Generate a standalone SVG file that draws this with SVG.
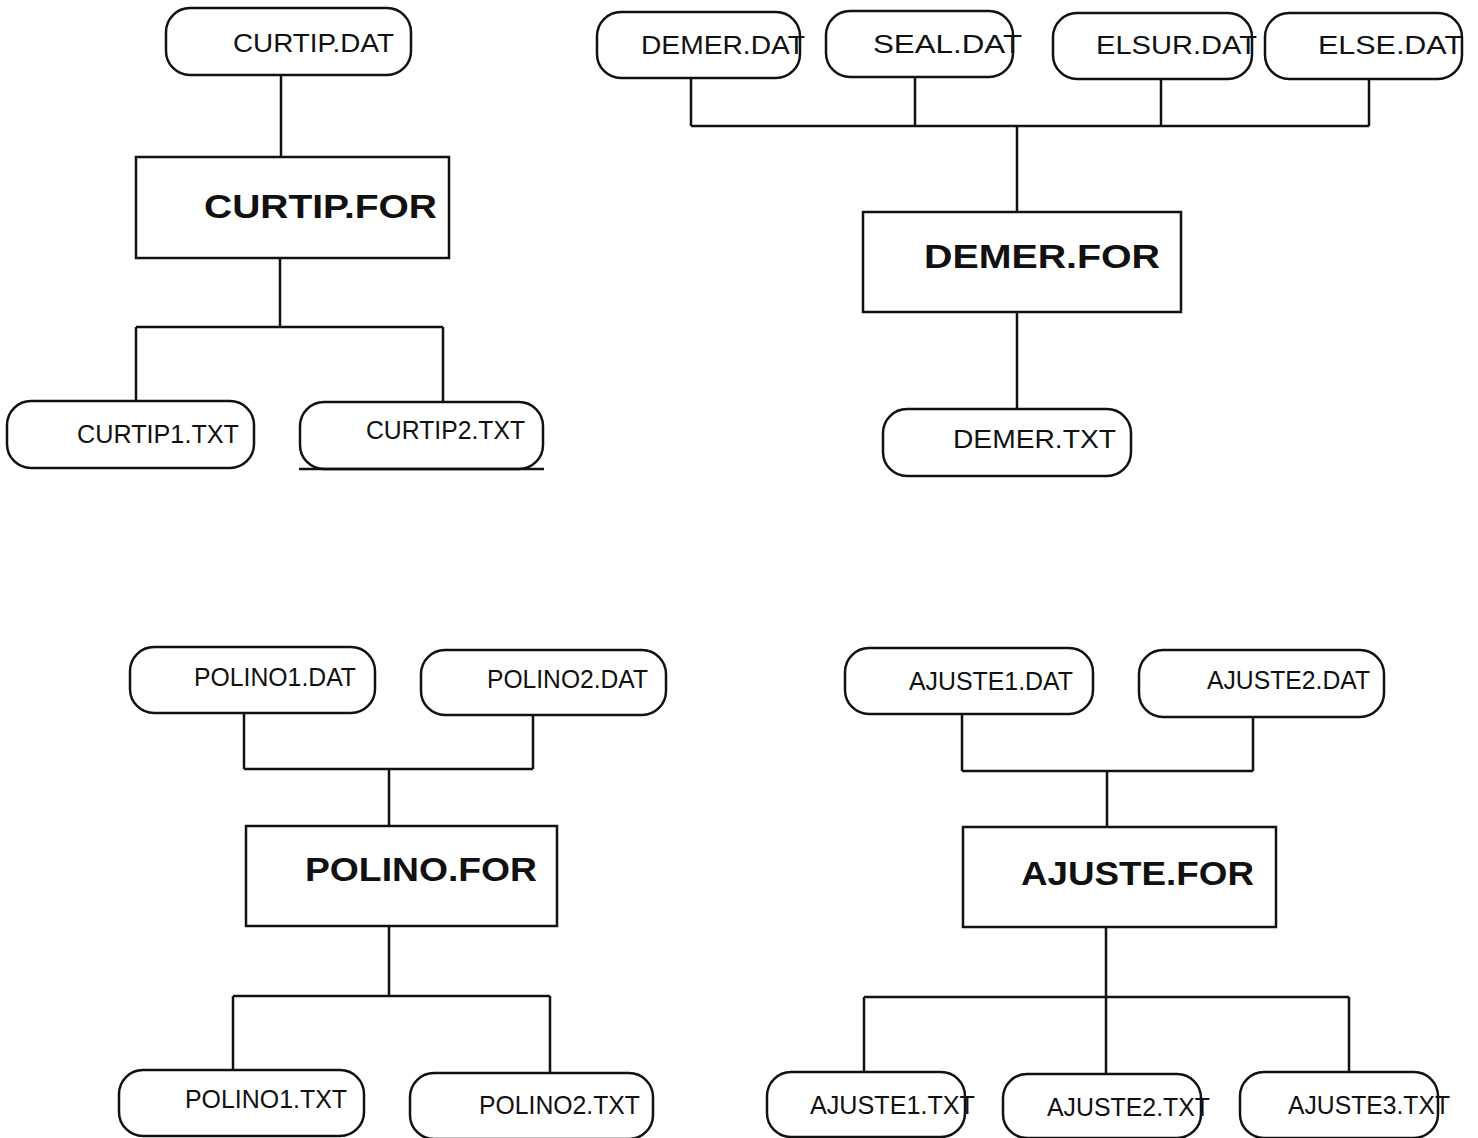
<svg xmlns="http://www.w3.org/2000/svg" width="1478" height="1138" viewBox="0 0 1478 1138">
<style>
.bg{fill:#fff}
.file{fill:#fff;stroke:#111;stroke-width:2.5}
.prog{fill:#fff;stroke:#111;stroke-width:2.5}
.conn{fill:none;stroke:#111;stroke-width:2.5}
.lbl{font-family:"Liberation Sans",Arial,sans-serif;font-size:26px;fill:#111}
.big{font-family:"Liberation Sans",Arial,sans-serif;font-size:33px;font-weight:bold;fill:#111}
</style>
<rect class="bg" x="0" y="0" width="1478" height="1138"/>
<g id="connectors">
<path class="conn" d="M281 75V157M280 258V327M136 327H443M136 327V401M443 327V402"/>
<path class="conn" d="M691 78V126M915 77V126M1161 79V126M1369 79V126M691 126H1369M1017 126V212M1017 312V409"/>
<path class="conn" d="M244 713V769M533 715V769M244 769H533M389 769V826M389 926V996M233 996H550M233 996V1070M550 996V1073"/>
<path class="conn" d="M962 714V771M1253 717V771M962 771H1253M1107 771V827M1106 927V997M864 997H1349M864 997V1072M1106 997V1074M1349 997V1072"/>
</g>
<g id="curtip_dat"><rect class="file" x="166" y="8" width="245" height="67" rx="24"/><text class="lbl" x="233" y="52" textLength="161" lengthAdjust="spacingAndGlyphs">CURTIP.DAT</text></g>
<g id="curtip_for"><rect class="prog" x="136" y="157" width="313" height="101"/><text class="big" x="204" y="218" textLength="233" lengthAdjust="spacingAndGlyphs">CURTIP.FOR</text></g>
<g id="curtip1_txt"><rect class="file" x="7" y="401" width="247" height="67" rx="24"/><text class="lbl" x="77" y="443" textLength="162" lengthAdjust="spacingAndGlyphs">CURTIP1.TXT</text></g>
<g id="curtip2_txt"><rect class="file" x="300" y="402" width="243" height="67" rx="24"/><path class="conn" d="M299 469H544"/><text class="lbl" x="366" y="439" textLength="159" lengthAdjust="spacingAndGlyphs">CURTIP2.TXT</text></g>
<g id="demer_dat"><rect class="file" x="597" y="12" width="203" height="66" rx="24"/><text class="lbl" x="641" y="54" textLength="164" lengthAdjust="spacingAndGlyphs">DEMER.DAT</text></g>
<g id="seal_dat"><rect class="file" x="826" y="11" width="187" height="66" rx="24"/><text class="lbl" x="873" y="53" textLength="149" lengthAdjust="spacingAndGlyphs">SEAL.DAT</text></g>
<g id="elsur_dat"><rect class="file" x="1053" y="13" width="199" height="66" rx="24"/><text class="lbl" x="1096" y="54" textLength="161" lengthAdjust="spacingAndGlyphs">ELSUR.DAT</text></g>
<g id="else_dat"><rect class="file" x="1265" y="13" width="197" height="66" rx="24"/><text class="lbl" x="1318" y="54" textLength="145" lengthAdjust="spacingAndGlyphs">ELSE.DAT</text></g>
<g id="demer_for"><rect class="prog" x="863" y="212" width="318" height="100"/><text class="big" x="924" y="268" textLength="236" lengthAdjust="spacingAndGlyphs">DEMER.FOR</text></g>
<g id="demer_txt"><rect class="file" x="883" y="409" width="248" height="67" rx="24"/><text class="lbl" x="953" y="448" textLength="163" lengthAdjust="spacingAndGlyphs">DEMER.TXT</text></g>
<g id="polino1_dat"><rect class="file" x="130" y="647" width="245" height="66" rx="24"/><text class="lbl" x="194" y="686" textLength="162" lengthAdjust="spacingAndGlyphs">POLINO1.DAT</text></g>
<g id="polino2_dat"><rect class="file" x="421" y="650" width="245" height="65" rx="24"/><text class="lbl" x="487" y="688" textLength="161" lengthAdjust="spacingAndGlyphs">POLINO2.DAT</text></g>
<g id="polino_for"><rect class="prog" x="246" y="826" width="311" height="100"/><text class="big" x="305" y="881" textLength="232" lengthAdjust="spacingAndGlyphs">POLINO.FOR</text></g>
<g id="polino1_txt"><rect class="file" x="119" y="1070" width="245" height="66" rx="24"/><text class="lbl" x="185" y="1108" textLength="162" lengthAdjust="spacingAndGlyphs">POLINO1.TXT</text></g>
<g id="polino2_txt"><rect class="file" x="410" y="1073" width="243" height="66" rx="24"/><text class="lbl" x="479" y="1114" textLength="161" lengthAdjust="spacingAndGlyphs">POLINO2.TXT</text></g>
<g id="ajuste1_dat"><rect class="file" x="845" y="648" width="248" height="66" rx="24"/><text class="lbl" x="909" y="690" textLength="164" lengthAdjust="spacingAndGlyphs">AJUSTE1.DAT</text></g>
<g id="ajuste2_dat"><rect class="file" x="1139" y="650" width="245" height="67" rx="24"/><text class="lbl" x="1207" y="689" textLength="163" lengthAdjust="spacingAndGlyphs">AJUSTE2.DAT</text></g>
<g id="ajuste_for"><rect class="prog" x="963" y="827" width="313" height="100"/><text class="big" x="1021" y="885" textLength="233" lengthAdjust="spacingAndGlyphs">AJUSTE.FOR</text></g>
<g id="ajuste1_txt"><rect class="file" x="767" y="1072" width="198" height="65" rx="24"/><text class="lbl" x="810" y="1114" textLength="165" lengthAdjust="spacingAndGlyphs">AJUSTE1.TXT</text></g>
<g id="ajuste2_txt"><rect class="file" x="1003" y="1074" width="198" height="64" rx="24"/><text class="lbl" x="1047" y="1116" textLength="163" lengthAdjust="spacingAndGlyphs">AJUSTE2.TXT</text></g>
<g id="ajuste3_txt"><rect class="file" x="1240" y="1072" width="198" height="66" rx="24"/><text class="lbl" x="1288" y="1114" textLength="162" lengthAdjust="spacingAndGlyphs">AJUSTE3.TXT</text></g>
</svg>
